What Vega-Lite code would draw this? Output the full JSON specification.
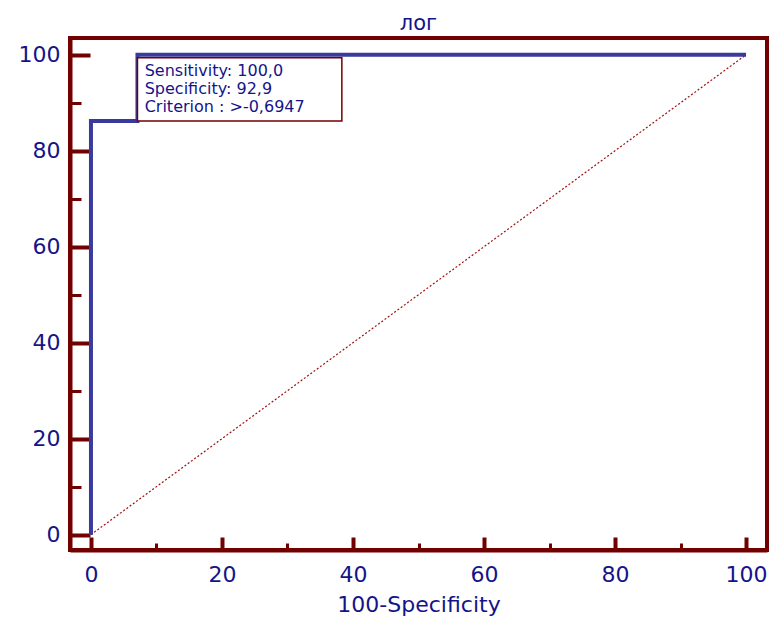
{
  "$schema": "https://vega.github.io/schema/vega-lite/v6.json",
  "width": 697,
  "height": 512,
  "autosize": "none",
  "padding": {"left": 70, "top": 38, "right": 6, "bottom": 69},
  "background": "white",
  "config": {
    "view": {"stroke": "#720000", "strokeWidth": 4},
    "font": "DejaVu Sans"
  },
  "title": {
    "text": "лог",
    "font": "DejaVu Sans",
    "fontSize": 21,
    "fontWeight": "normal",
    "color": "#14148a",
    "baseline": "alphabetic",
    "offset": -13
  },
  "datasets": {
    "roc": [
      {"i": 0, "fpr": 0, "tpr": 0},
      {"i": 1, "fpr": 0, "tpr": 86.2},
      {"i": 2, "fpr": 7.1, "tpr": 86.2},
      {"i": 3, "fpr": 7.1, "tpr": 100},
      {"i": 4, "fpr": 100, "tpr": 100}
    ],
    "diag": [
      {"fpr": 0, "tpr": 0},
      {"fpr": 100, "tpr": 100}
    ],
    "box": [
      {"x1": 7.1, "x2": 38.3, "y1": 86.2, "y2": 99.4}
    ],
    "lines": [
      {"x": 8.2, "y": 96.6, "label": "Sensitivity: 100,0"},
      {"x": 8.2, "y": 92.9, "label": "Specificity: 92,9"},
      {"x": 8.2, "y": 89.2, "label": "Criterion : >-0,6947"}
    ]
  },
  "layer": [
    {
      "data": {"name": "diag"},
      "mark": {"type": "line", "color": "#a01010", "strokeWidth": 1.2, "strokeDash": [2, 2]},
      "encoding": {
        "x": {
          "field": "fpr", "type": "quantitative",
          "scale": {"domain": [-3.2, 103.2], "nice": false, "zero": false},
          "axis": {
            "values": [0,5,10,15,20,25,30,35,40,45,50,55,60,65,70,75,80,85,90,95,100],
            "labelExpr": "datum.value % 20 === 0 ? datum.label : ''",
            "title": "100-Specificity",
            "titleFont": "DejaVu Sans",
            "titleFontSize": 22,
            "titleFontWeight": "normal",
            "titleColor": "#14148a",
            "titlePadding": 3,
            "labelFont": "DejaVu Sans",
            "labelFontSize": 22,
            "labelColor": "#14148a",
            "labelPadding": 27,
            "labelOverlap": false,
            "labelFlush": false,
            "domainColor": "#720000",
            "domainWidth": 4,
            "tickColor": "#720000",
            "tickSize": {"condition": {"test": "datum.value % 20 === 0", "value": -13}, "value": -7},
            "tickWidth": {"condition": {"test": "datum.value % 20 === 0", "value": 4}, "value": 3},
            "grid": false
          }
        },
        "y": {
          "field": "tpr", "type": "quantitative",
          "scale": {"domain": [-3.2, 103.5], "nice": false, "zero": false},
          "axis": {
            "values": [0,5,10,15,20,25,30,35,40,45,50,55,60,65,70,75,80,85,90,95,100],
            "labelExpr": "datum.value % 20 === 0 ? datum.label : ''",
            "title": null,
            "labelFont": "DejaVu Sans",
            "labelFontSize": 22,
            "labelColor": "#14148a",
            "labelPadding": 30,
            "labelOverlap": false,
            "labelFlush": false,
            "domainColor": "#720000",
            "domainWidth": 4,
            "tickColor": "#720000",
            "tickSize": {"condition": {"test": "datum.value % 20 === 0", "value": -20}, "value": -11},
            "tickWidth": {"condition": {"test": "datum.value % 20 === 0", "value": 4}, "value": 3},
            "grid": false
          }
        }
      }
    },
    {
      "data": {"name": "roc"},
      "mark": {"type": "line", "color": "#3a3a9c", "strokeWidth": 4, "strokeJoin": "miter"},
      "encoding": {
        "x": {"field": "fpr", "type": "quantitative"},
        "y": {"field": "tpr", "type": "quantitative"},
        "order": {"field": "i", "type": "quantitative"}
      }
    },
    {
      "data": {"name": "box"},
      "mark": {"type": "rect", "fill": "white", "stroke": "#720000", "strokeWidth": 1.5},
      "encoding": {
        "x": {"field": "x1", "type": "quantitative"},
        "x2": {"field": "x2"},
        "y": {"field": "y1", "type": "quantitative"},
        "y2": {"field": "y2"}
      }
    },
    {
      "data": {"name": "lines"},
      "mark": {"type": "text", "align": "left", "baseline": "middle", "font": "DejaVu Sans", "fontSize": 16, "color": "#14148a"},
      "encoding": {
        "x": {"field": "x", "type": "quantitative"},
        "y": {"field": "y", "type": "quantitative"},
        "text": {"field": "label"}
      }
    }
  ]
}
